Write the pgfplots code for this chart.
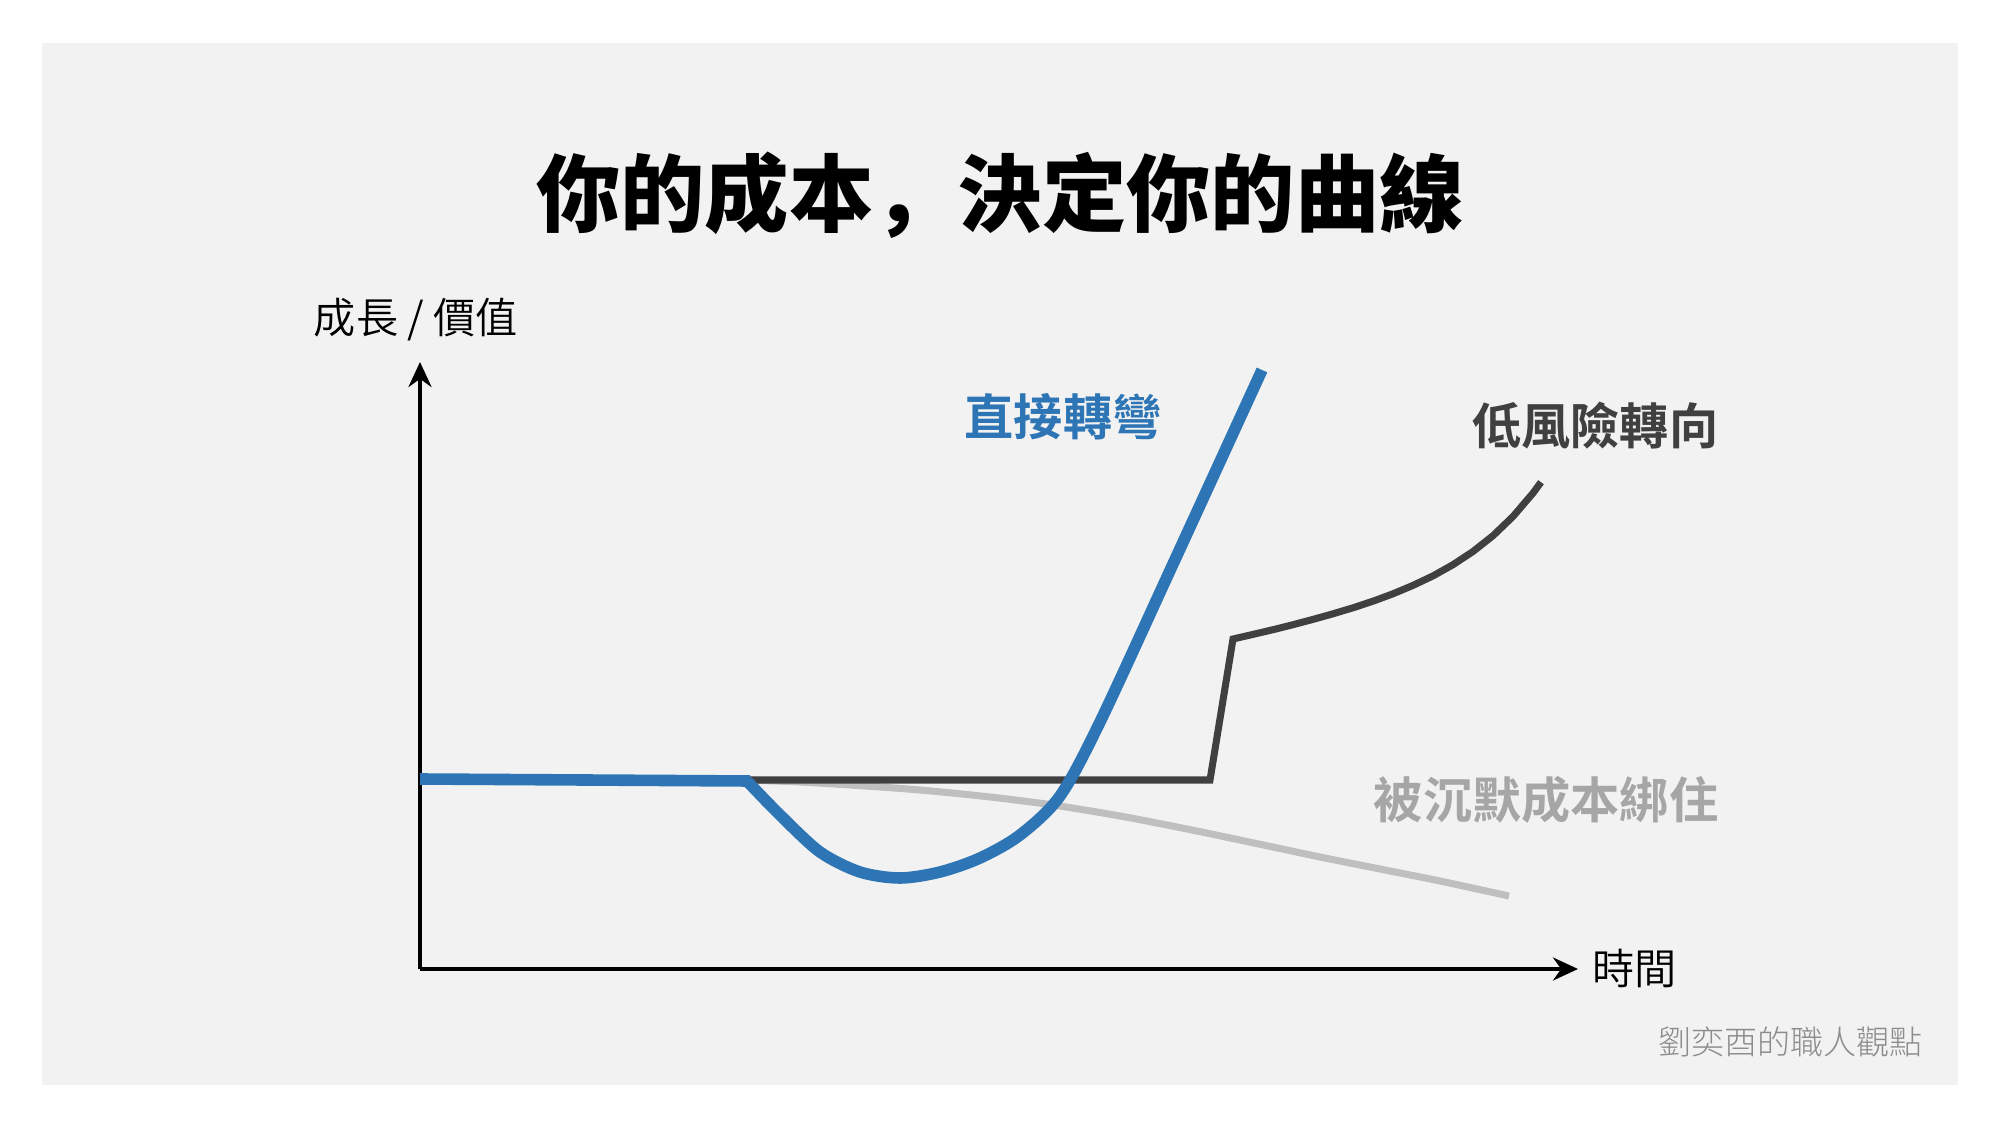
\documentclass[border=0pt]{standalone}
\usepackage{fontspec}
\usepackage{pgfplots}
\pgfplotsset{compat=1.18}
\usetikzlibrary{arrows.meta}
\setmainfont{Noto Sans CJK TC}
\newfontfamily\tblack{Noto Sans CJK TC Black}
\newfontfamily\scblack{Noto Sans CJK SC Black}
\newfontfamily\tbold{Noto Sans CJK TC Bold}
\newfontfamily\tlight{Noto Sans CJK TC Light}
\newfontfamily\tdemi{Noto Sans CJK TC DemiLight}
\definecolor{panel}{HTML}{F2F2F2}
\definecolor{cblue}{HTML}{2E75B6}
\definecolor{cdark}{HTML}{404040}
\definecolor{cgray}{HTML}{BFBFBF}
\definecolor{lgray}{HTML}{A6A6A6}
\definecolor{wm}{HTML}{8C8C8C}
\begin{document}
\begin{tikzpicture}
\fill[white] (0,0) rectangle (200mm,112.5mm);
\fill[panel] (4.2mm,4mm) rectangle (195.8mm,108.2mm);
\begin{axis}[at={(42mm,15.6mm)}, anchor=origin, scale only axis,
  width=115.8mm, height=60.7mm,
  xmin=0, xmax=1158, ymin=0, ymax=607,
  axis lines=left,
  axis line style={line width=1.1pt, -{Stealth[length=2.5mm,width=2.3mm]}},
  ticks=none, clip=false]
% 被沉默成本綁住
\addplot[cgray, line width=2pt, smooth] coordinates {
(327,189) (380,187) (430,184) (500,179) (570,172) (633,164) (700,153)
(767,140) (834,126) (900,112) (960,100) (1020,88) (1089,73)};
% 低風險轉向
\addplot[cdark, line width=2pt] coordinates {
(0,189) (790,189) (813,330) (833,334.6) (853,339.3) (873,344.3) (893,349.6)
(913,355.2) (933,361.2) (953,367.8) (973,375.2) (993,383.6) (1013,393.1)
(1033,404.3) (1053,417.5) (1073,433.3) (1093,452.5) (1113,475.9) (1121,486.8)};
% 直接轉彎
\addplot[cblue, line width=3.3pt] coordinates {
(0,190) (330,188)};
\addplot[cblue, line width=3.3pt, smooth, tension=0.5] coordinates {
(327,188) (360,154) (400,117) (440,97) (480,91) (520,97) (560,111)
(600,134) (640,173) (680,247) (753,405) (842,599)};
\end{axis}
\node[font=\tblack\fontsize{24pt}{28pt}\selectfont, inner sep=0] at (100mm,93mm) {你的成本{\scblack ，}決定你的曲線};
\node[font=\tdemi\fontsize{12pt}{14pt}\selectfont, inner sep=0] at (41.6mm,80.5mm) {成長 / 價值};
\node[font=\tdemi\fontsize{12pt}{14pt}\selectfont, inner sep=0, anchor=west] at (159.2mm,15.7mm) {時間};
\node[font=\tbold\fontsize{14pt}{16pt}\selectfont, text=cblue, inner sep=0] at (106.3mm,70.8mm) {直接轉彎};
\node[font=\tbold\fontsize{14pt}{16pt}\selectfont, text=cdark, inner sep=0, anchor=east] at (171.9mm,69.9mm) {低風險轉向};
\node[font=\tbold\fontsize{14pt}{16pt}\selectfont, text=lgray, inner sep=0, anchor=east] at (171.9mm,32.5mm) {被沉默成本綁住};
\node[font=\tlight\fontsize{9.4pt}{11pt}\selectfont, text=wm, inner sep=0, anchor=east] at (192.3mm,8.3mm) {劉奕酉的職人觀點};
\end{tikzpicture}
\end{document}
